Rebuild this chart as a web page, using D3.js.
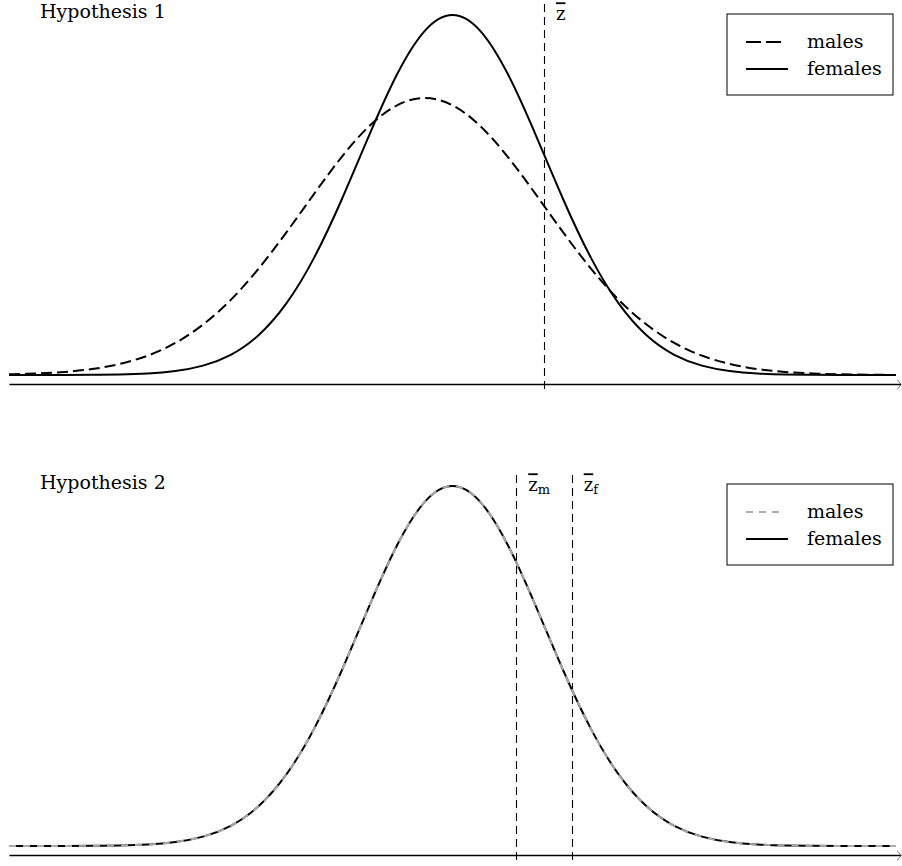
<!DOCTYPE html>
<html>
<head>
<meta charset="utf-8">
<script src="https://cdn.jsdelivr.net/npm/d3@7"></script>
<style>
  body { margin: 0; background: #fff; }
  svg { display: block; font-family: 'DejaVu Serif', serif; }
</style>
</head>
<body>
<svg id="chart"></svg>
<script>
// trait values (standardised) and densities
const xs = [-4.8, -4.5, -4.2, -3.9, -3.6, -3.3, -3.0, -2.7, -2.4, -2.1, -1.8, -1.5, -1.2, -0.9, -0.6, -0.3,
  0, 0.3, 0.6, 0.9, 1.2, 1.5, 1.8, 2.1, 2.4, 2.7, 3.0, 3.3, 3.6, 3.9, 4.2, 4.5, 4.8];

const h1Males = [0.0008, 0.0017, 0.0034, 0.0066, 0.0123, 0.0214, 0.0355, 0.0559, 0.0832, 0.1177, 0.1577,
  0.2004, 0.2415, 0.2759, 0.2988, 0.3069, 0.2988, 0.2759, 0.2415, 0.2004, 0.1577, 0.1177, 0.0832, 0.0559,
  0.0355, 0.0214, 0.0123, 0.0066, 0.0034, 0.0017, 0.0008, 0.0003, 0.0001];
const h1Females = [0.0000, 0.0000, 0.0001, 0.0002, 0.0006, 0.0017, 0.0044, 0.0104, 0.0224, 0.0440, 0.0790,
  0.1295, 0.1942, 0.2661, 0.3332, 0.3814, 0.3989, 0.3814, 0.3332, 0.2661, 0.1942, 0.1295, 0.0790, 0.0440,
  0.0224, 0.0104, 0.0044, 0.0017, 0.0006, 0.0002, 0.0001, 0.0000, 0.0000];
const h2Males = [0.0000, 0.0000, 0.0001, 0.0002, 0.0006, 0.0017, 0.0044, 0.0104, 0.0224, 0.0440, 0.0790,
  0.1295, 0.1942, 0.2661, 0.3332, 0.3814, 0.3989, 0.3814, 0.3332, 0.2661, 0.1942, 0.1295, 0.0790, 0.0440,
  0.0224, 0.0104, 0.0044, 0.0017, 0.0006, 0.0002, 0.0001, 0.0000, 0.0000];
const h2Females = [0.0000, 0.0000, 0.0001, 0.0002, 0.0006, 0.0017, 0.0044, 0.0104, 0.0224, 0.0440, 0.0790,
  0.1295, 0.1942, 0.2661, 0.3332, 0.3814, 0.3989, 0.3814, 0.3332, 0.2661, 0.1942, 0.1295, 0.0790, 0.0440,
  0.0224, 0.0104, 0.0044, 0.0017, 0.0006, 0.0002, 0.0001, 0.0000, 0.0000];

const h1Cutoffs = [{ x: 0.99, label: 'z', sub: '' }];
const h2Cutoffs = [{ x: 0.69, label: 'z', sub: 'm' }, { x: 1.29, label: 'z', sub: 'f' }];
const titles = ['Hypothesis 1', 'Hypothesis 2'];
const legendLabels = ['males', 'females'];

const width = 902;
const height = 866;
const panelShift = 471;

const svg = d3.select('#chart')
  .attr('width', width)
  .attr('height', height);

const defs = svg.append('defs');
defs.append('marker')
  .attr('id', 'arrow')
  .attr('markerUnits', 'userSpaceOnUse')
  .attr('markerWidth', 6)
  .attr('markerHeight', 12)
  .attr('refX', 4)
  .attr('refY', 6)
  .attr('orient', 'auto')
  .append('path')
  .attr('d', 'M0,1 L4,6 L0,11')
  .attr('fill', 'none')
  .attr('stroke', '#555')
  .attr('stroke-width', 0.8);

const xScale = d3.scaleLinear()
  .domain([-4.8, 4.8])
  .range([9, 896]);

const axisScale = d3.scaleLinear()
  .domain([-4.8, 4.85])
  .range([xScale(-4.8), xScale(4.85)]);

const yScale = d3.scaleLinear()
  .domain([0, 0.3989])
  .range([375, 15]);

const line = d3.line()
  .x(d => xScale(d.x))
  .y(d => yScale(d.y))
  .curve(d3.curveNatural);

const toPoints = vals => xs.map((x, i) => ({ x: x, y: vals[i] }));

const panels = [{
  title: titles[0],
  cutoffs: h1Cutoffs,
  series: [
    { name: legendLabels[1], values: h1Females, color: '#000', dash: null },
    { name: legendLabels[0], values: h1Males, color: '#000', dash: '11,5' }
  ],
  legend: [
    { label: legendLabels[0], color: '#000', dash: '15,5', len: 36 },
    { label: legendLabels[1], color: '#000', dash: null, len: 42 }
  ]
}, {
  title: titles[1],
  cutoffs: h2Cutoffs,
  series: [
    { name: legendLabels[1], values: h2Females, color: '#000', dash: null },
    { name: legendLabels[0], values: h2Males, color: '#aaa', dash: '7,7' }
  ],
  legend: [
    { label: legendLabels[0], color: '#aaa', dash: '7,6', len: 35 },
    { label: legendLabels[1], color: '#000', dash: null, len: 42 }
  ]
}];

panels.forEach((panel, p) => {
  const g = svg.append('g')
    .attr('transform', `translate(0, ${p * panelShift})`);

  // horizontal axis, no ticks
  g.append('g')
    .attr('class', 'xAxis')
    .attr('transform', `translate(0, ${yScale(-0.01)})`)
    .call(d3.axisBottom(axisScale).tickValues([]).tickSizeOuter(0))
    .call(a => a.select('.domain')
      .attr('stroke', '#000')
      .attr('stroke-width', 1.3)
      .attr('marker-end', 'url(#arrow)'));

  // cutoff lines
  const cut = g.selectAll('.cutoff')
    .data(panel.cutoffs)
    .enter()
    .append('g')
    .attr('class', 'cutoff');

  cut.append('line')
    .attr('x1', d => Math.round(xScale(d.x)) + 0.5)
    .attr('x2', d => Math.round(xScale(d.x)) + 0.5)
    .attr('y1', yScale(-0.0155))
    .attr('y2', yScale(0.4165))
    .attr('stroke', '#000')
    .attr('stroke-width', 1.1)
    .attr('stroke-dasharray', '8,5');

  const lbl = cut.append('text')
    .attr('x', d => xScale(d.x) + 12)
    .attr('y', yScale(0.393))
    .attr('font-size', 18)
    .attr('fill', '#000');
  lbl.append('tspan')
    .style('text-decoration', 'overline')
    .text(d => d.label);
  lbl.append('tspan')
    .attr('font-size', 13)
    .attr('dy', 3)
    .text(d => d.sub);

  // density curves
  g.selectAll('.curve')
    .data(panel.series)
    .enter()
    .append('path')
    .attr('class', 'curve')
    .attr('d', d => line(toPoints(d.values)))
    .attr('fill', 'none')
    .attr('stroke', d => d.color)
    .attr('stroke-width', 2)
    .attr('stroke-dasharray', d => d.dash);

  // title
  g.append('text')
    .attr('x', 40)
    .attr('y', 17.5)
    .attr('font-size', 19)
    .attr('fill', '#000')
    .text(panel.title);

  // legend
  const legend = g.append('g')
    .attr('class', 'legend')
    .attr('transform', `translate(727, ${14 - p})`);

  legend.append('rect')
    .attr('width', 166)
    .attr('height', 81)
    .attr('fill', '#fff')
    .attr('stroke', '#000')
    .attr('stroke-width', 1);

  const item = legend.selectAll('.item')
    .data(panel.legend)
    .enter()
    .append('g')
    .attr('class', 'item')
    .attr('transform', (d, i) => `translate(0, ${28 + i * 27})`);

  item.append('line')
    .attr('x1', 19)
    .attr('x2', d => 19 + d.len)
    .attr('stroke', d => d.color)
    .attr('stroke-width', 2)
    .attr('stroke-dasharray', d => d.dash);

  item.append('text')
    .attr('x', 80)
    .attr('y', 6)
    .attr('font-size', 19)
    .attr('fill', '#000')
    .text(d => d.label);
});
</script>
</body>
</html>
